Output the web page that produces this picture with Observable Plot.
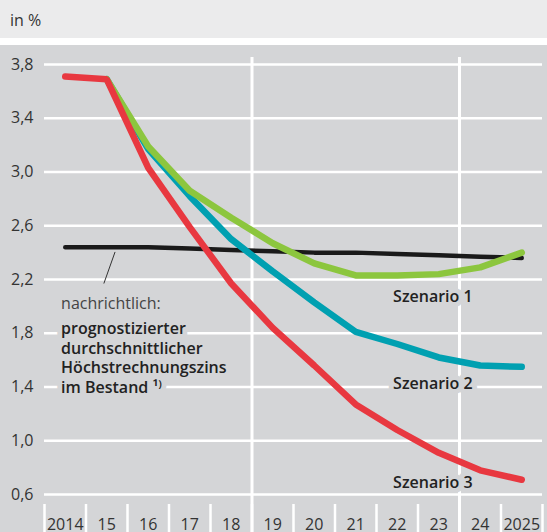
<!DOCTYPE html>
<html><head><meta charset="utf-8">
<script src="https://cdn.jsdelivr.net/npm/d3@7"></script>
<script src="https://cdn.jsdelivr.net/npm/@observablehq/plot@0.6"></script>
<style>
body{margin:0;background:#fff;font-family:"Open Sans",sans-serif;}
#head{height:38px;background:#ebebec;color:#333;font-size:16px;line-height:40px;padding-left:10px;margin-bottom:7px;box-sizing:border-box;}
#chart svg{display:block;}
</style></head><body>
<div id="head">in %</div>
<div id="chart"></div>
<script>
const years = [2014, 2015, 2016, 2017, 2018, 2019, 2020, 2021, 2022, 2023, 2024, 2025];
const yearLabels = ["2014", "15", "16", "17", "18", "19", "20", "21", "22", "23", "24", "2025"];
const yTicks = [0.6, 1.0, 1.4, 1.8, 2.2, 2.6, 3.0, 3.4, 3.8];
const szenario1 = [null, 3.69, 3.19, 2.86, 2.66, 2.47, 2.32, 2.23, 2.23, 2.24, 2.29, 2.40];
const szenario2 = [null, 3.69, 3.17, 2.82, 2.50, 2.26, 2.03, 1.81, 1.72, 1.62, 1.56, 1.55];
const szenario3 = [3.71, 3.69, 3.03, 2.59, 2.17, 1.84, 1.56, 1.27, 1.08, 0.91, 0.78, 0.71];
const hrz = [2.44, 2.44, 2.44, 2.43, 2.42, 2.41, 2.40, 2.40, 2.39, 2.38, 2.37, 2.36];
// annotation anchors (x in years, y in %)
const seriesLabels = [
  {x: 2021.9, y: 2.072, text: "Szenario 1"},
  {x: 2021.9, y: 1.425, text: "Szenario 2"},
  {x: 2021.9, y: 0.689, text: "Szenario 3"}
];
const noteLabel = [{x: 2013.9, y: 2.022, text: "nachrichtlich:"}];
const noteBold = [
  {x: 2013.9, y: 1.831, text: "prognostizierter"},
  {x: 2013.9, y: 1.685, text: "durchschnittlicher"},
  {x: 2013.9, y: 1.539, text: "Höchstrechnungszins"},
  {x: 2013.9, y: 1.393, text: "im Bestand ¹⁾"}
];
const leader = [{x1: 2015.2, y1: 2.405, x2: 2014.93, y2: 2.17}];
const dividers = [2018.5, 2023.5];
const bandEdges = [2013.5, 2014.5, 2015.5, 2016.5, 2017.5, 2018.5, 2019.5, 2020.5, 2021.5, 2022.5, 2023.5, 2024.5, 2025.5];

const mk = (vals) => years.map((x, i) => ({x, y: vals[i]})).filter(d => d.y != null);
const bg = "#d4d5d7";

const chart = Plot.plot({
  width: 547,
  height: 487,
  marginLeft: 44,
  marginRight: 5,
  marginTop: 19,
  marginBottom: 38,
  style: {background: bg, fontFamily: "'Open Sans', sans-serif", fontSize: "16px", color: "#333"},
  x: {type: "linear", domain: [2013.5, 2025.5], axis: null},
  y: {domain: [0.6, 3.8], axis: null},
  marks: [
    Plot.ruleY(yTicks, {stroke: "white", strokeWidth: 2.5}),
    Plot.ruleX(dividers, {stroke: "white", strokeWidth: 3, insetTop: -7, insetBottom: -40}),
    Plot.axisX(bandEdges, {tickSize: 30, dy: 10, stroke: "white", strokeWidth: 2.5, tickFormat: () => "", label: null}),
    Plot.axisX(years, {tickSize: 0, tickPadding: 24, tickFormat: d => yearLabels[years.indexOf(d)], fontSize: 16, fill: "#333", label: null}),
    Plot.axisY(yTicks, {tickSize: 0, tickPadding: 11, tickFormat: d => d.toFixed(1).replace(".", ","), fontSize: 16, fill: "#333", label: null}),
    Plot.link(leader, {x1: "x1", y1: "y1", x2: "x2", y2: "y2", stroke: "#333", strokeWidth: 1}),
    Plot.line(mk(hrz), {x: "x", y: "y", stroke: "#1a1a1a", strokeWidth: 4.5, strokeLinejoin: "miter"}),
    Plot.line(mk(szenario2), {x: "x", y: "y", stroke: "#00a0b1", strokeWidth: 6.5, strokeLinejoin: "miter"}),
    Plot.line(mk(szenario1), {x: "x", y: "y", stroke: "#8cc63e", strokeWidth: 6.5, strokeLinejoin: "miter"}),
    Plot.line(mk(szenario3), {x: "x", y: "y", stroke: "#e83840", strokeWidth: 6.5, strokeLinejoin: "miter"}),
    Plot.text(seriesLabels, {x: "x", y: "y", text: "text", textAnchor: "start", fontSize: 16, fontWeight: 600, fill: "#222", stroke: bg, strokeWidth: 10}),
    Plot.text(noteLabel, {x: "x", y: "y", text: "text", textAnchor: "start", fontSize: 16, fill: "#444", stroke: bg, strokeWidth: 10}),
    Plot.text(noteBold, {x: "x", y: "y", text: "text", textAnchor: "start", fontSize: 16, fontWeight: 600, fill: "#222", stroke: bg, strokeWidth: 10})
  ]
});
document.getElementById("chart").append(chart);
</script>
</body></html>
